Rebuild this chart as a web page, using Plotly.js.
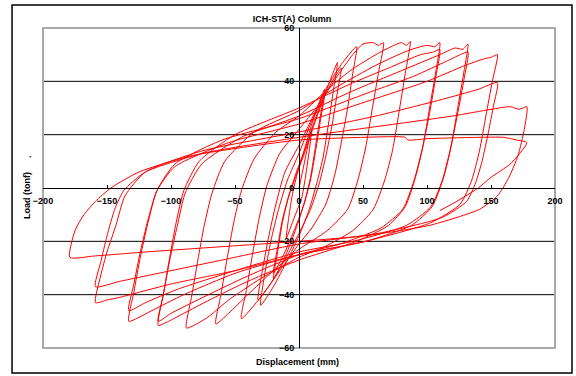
<!DOCTYPE html>
<html><head><meta charset="utf-8">
<script src="https://cdn.plot.ly/plotly-3.0.1.min.js"></script>
<style>html,body{margin:0;padding:0;background:#fff}#chart{width:576px;height:376px}</style>
</head><body><div id="chart"></div>
<script>
// Displacement (mm) / Load (tonf) record, read cycle by cycle from the reference
const startDisp = [0];
const startLoad = [0];
const cyc01Disp = [4, 7, 10, 8, 5, 2, -2, -6, -10];
const cyc01Load = [9, 16, 22, 14, 4, -4, -9, -14, -19];
const cyc02Disp = [-8, -5, -1, 4, 10, 15, 20, 17, 13, 9, 5, 0, -6, -13, -20];
const cyc02Load = [-11, -2, 6, 14, 24, 31, 37, 28, 16, 4, -4, -12, -20, -28, -34];
const cyc03Disp = [-17, -13, -8, -2, 5, 12, 20, 17, 13, 9, 4, -3, -11, -20];
const cyc03Load = [-25, -13, -3, 6, 15, 25, 35, 26, 14, 3, -6, -15, -24, -32];
const cyc04Disp = [-17, -13, -8, -2, 5, 12, 18, 24, 30, 27, 23, 19, 14, 8, 0, -9, -20, -30];
const cyc04Load = [-23, -12, -3, 5, 14, 24, 32, 40, 47, 37, 24, 12, 2, -8, -18, -27, -37, -44];
const cyc05Disp = [-27, -22, -16, -9, 0, 9, 18, 26, 33, 30, 26, 21, 16, 9, 0, -10, -21, -32];
const cyc05Load = [-33, -20, -8, 3, 13, 24, 33, 40, 45, 36, 24, 12, 2, -8, -17, -26, -35, -42];
const cyc06Disp = [-29, -24, -18, -11, 0, 11, 22, 34, 45, 42, 38, 33, 28, 21, 10, 0, -15, -30, -45];
const cyc06Load = [-32, -19, -6, 6, 16, 27, 38, 47, 53, 43, 30, 17, 5, -6, -15, -21, -31, -41, -49];
const cyc07Disp = [-41, -36, -31, -25, -15, 0, 15, 30, 42, 50, 58, 62, 66, 62, 57, 52, 46, 38, 22, 0, -20, -40, -55, -65];
const cyc07Load = [-38, -24, -11, 1, 13, 22, 31, 42, 50, 54, 54.5, 53.5, 54.5, 43, 29, 15, 3, -8, -16, -23, -31, -40, -47, -51];
const cyc08Disp = [-61, -56, -51, -45, -35, -18, 0, 20, 40, 60, 72, 80, 84, 87, 83, 78, 73, 67, 58, 42, 20, 0, -30, -55, -70, -80, -88];
const cyc08Load = [-40, -26, -13, -1, 11, 21, 27, 36, 44, 50, 53, 54.5, 53.5, 55, 43, 28, 14, 3, -8, -16, -22, -26, -34, -42, -48, -51, -52.5];
const cyc09Disp = [-84, -79, -74, -68, -58, -35, 0, 30, 60, 85, 100, 106, 110, 107, 102, 97, 91, 83, 70, 45, 0, -40, -70, -90, -102, -110];
const cyc09Load = [-41, -27, -14, -2, 10, 21, 29, 38, 46, 51.5, 53.5, 53, 54.5, 44, 30, 16, 4, -7, -14, -20, -27, -35, -42, -47, -50, -51.5];
const cyc10Disp = [-106, -101, -96, -90, -78, -50, 0, 40, 70, 95, 105, 110, 107, 102, 96, 90, 81, 64, 32, 0, -40, -75, -100, -110];
const cyc10Load = [-40, -26, -13, -1, 10, 20, 30, 39, 45, 50, 51, 52, 42, 28, 14, 3, -8, -15, -21, -25, -33, -41, -47, -50];
const cyc11Disp = [-106, -101, -95, -89, -76, -45, 0, 40, 80, 110, 122, 128, 132, 129, 124, 119, 113, 104, 88, 52, 0, -50, -90, -115, -125, -133];
const cyc11Load = [-40, -27, -14, -2, 9, 19, 27, 36, 44, 50, 52.5, 52, 54, 44, 30, 16, 4, -7, -14, -20, -25, -32, -40, -46, -48.5, -50];
const cyc12Disp = [-129, -124, -118, -111, -97, -60, 0, 50, 90, 115, 126, 132, 129, 124, 118, 112, 103, 84, 42, 0, -50, -95, -120, -133];
const cyc12Load = [-39, -26, -13, -1, 9, 18, 26, 35, 42, 47.5, 50, 51, 41, 28, 14, 3, -7, -14, -20, -24, -31, -38, -43, -46];
const cyc13Disp = [-129, -124, -118, -111, -97, -55, 0, 50, 100, 130, 145, 150, 155, 151, 146, 141, 135, 126, 103, 52, 0, -50, -100, -140, -150, -159];
const cyc13Load = [-36, -24, -12, -1, 8, 17, 24, 32, 40, 46, 48.5, 49, 50, 40, 27, 14, 3, -6, -13, -20, -25, -31, -36, -41, -42, -43];
const cyc14Disp = [-155, -150, -143, -136, -120, -75, 0, 60, 110, 140, 155, 152, 148, 143, 138, 131, 112, 62, 0, -60, -110, -140, -159];
const cyc14Load = [-33, -24, -14, -3, 6, 14, 21, 27, 33, 37, 39.5, 31, 21, 10, 2, -5, -11, -17, -21, -27, -32, -35, -37];
const cyc15Disp = [-155, -150, -144, -137, -120, -75, 0, 60, 120, 150, 165, 172, 178, 176, 171, 164, 155, 141, 102, 50, 0, -60, -120, -160, -179];
const cyc15Load = [-28, -18, -8, -1, 6, 13, 19, 23, 27, 29.5, 30.5, 29.5, 30.5, 22, 12, 4, -3, -8, -14, -18, -20, -22, -24, -25.5, -26];
const cyc16Disp = [-175, -168, -159, -147, -125, -85, -40, 0, 50, 83, 85, 100, 140, 160, 170, 178, 165, 150, 140, 125, 110];
const cyc16Load = [-16, -10, -5, 0, 6, 12, 15.5, 18, 19, 19, 18, 18.5, 19, 19, 18, 17, 9, 4, 0, -4.5, -8.5];

const xTickVals = [-200, -150, -100, -50, 0, 50, 100, 150, 200];
const yTickVals = [-60, -40, -20, 0, 20, 40, 60];
const yGridVals = [-40, -20, 20, 40];

const cycles = [
  [startDisp, startLoad], [cyc01Disp, cyc01Load], [cyc02Disp, cyc02Load], [cyc03Disp, cyc03Load],
  [cyc04Disp, cyc04Load], [cyc05Disp, cyc05Load], [cyc06Disp, cyc06Load], [cyc07Disp, cyc07Load],
  [cyc08Disp, cyc08Load], [cyc09Disp, cyc09Load], [cyc10Disp, cyc10Load], [cyc11Disp, cyc11Load],
  [cyc12Disp, cyc12Load], [cyc13Disp, cyc13Load], [cyc14Disp, cyc14Load], [cyc15Disp, cyc15Load],
  [cyc16Disp, cyc16Load]
];
let disp = [], load = [];
cycles.forEach(function (c) { disp = disp.concat(c[0]); load = load.concat(c[1]); });

const FONT = 'Liberation Sans, Arial, sans-serif';
const TXT = {family: FONT, size: 9, color: '#000000', weight: 'bold'};
const trace = {
  x: disp, y: load, type: 'scatter', mode: 'lines',
  line: {color: '#ff0000', width: 1, shape: 'spline', smoothing: 0.6},
  hoverinfo: 'skip', showlegend: false
};

const shapes = yGridVals.map(function (v) {
  return {type: 'line', xref: 'paper', yref: 'y', x0: 0, x1: 1, y0: v, y1: v,
          line: {color: '#000000', width: 1}, layer: 'below'};
});
shapes.push({type: 'rect', xref: 'paper', yref: 'paper', x0: 0, x1: 1, y0: 0, y1: 1,
             line: {color: '#a8a8a8', width: 2}, layer: 'below'});
shapes.push({type: 'rect', xref: 'paper', yref: 'paper', x0: -0.0605, x1: 1.0332, y0: -0.078, y1: 1.0719,
             line: {color: '#000000', width: 1.5}, layer: 'above'});

const layout = {
  width: 576, height: 376,
  margin: {l: 43, r: 21, t: 28, b: 28, pad: 0},
  paper_bgcolor: '#ffffff', plot_bgcolor: '#ffffff',
  font: TXT,
  title: {text: 'ICH-ST(A) Column', font: TXT,
          xref: 'container', yref: 'container', x: 0.507, y: 0.951, xanchor: 'center', yanchor: 'middle'},
  xaxis: {range: [-200, 200], tickmode: 'array', tickvals: xTickVals, anchor: 'free', position: 0.5,
          showline: true, linecolor: '#000000', linewidth: 1, ticks: 'inside', ticklen: 3, tickcolor: '#000000',
          showgrid: false, zeroline: false, ticklabelstandoff: 4, tickfont: TXT},
  yaxis: {range: [-60, 60], tickmode: 'array', tickvals: yTickVals, anchor: 'free', position: 0.5,
          showline: true, linecolor: '#000000', linewidth: 1, ticks: 'inside', ticklen: 3, tickcolor: '#000000',
          showgrid: false, zeroline: false, ticklabelstandoff: 3, tickfont: TXT},
  shapes: shapes,
  annotations: [
    {text: 'Displacement (mm)', xref: 'paper', yref: 'paper', x: 0.498, y: -0.04375,
     xanchor: 'center', yanchor: 'middle', showarrow: false, font: TXT},
    {text: 'Load (tonf)', xref: 'paper', yref: 'paper', x: -0.03125, y: 0.475, textangle: -90,
     xanchor: 'center', yanchor: 'middle', showarrow: false, font: TXT},
    {text: '.', xref: 'paper', yref: 'paper', x: -0.0293, y: 0.6, textangle: -90,
     xanchor: 'center', yanchor: 'middle', showarrow: false, font: TXT}
  ]
};
Plotly.newPlot('chart', [trace], layout, {displayModeBar: false, staticPlot: true});
</script>
</body></html>
